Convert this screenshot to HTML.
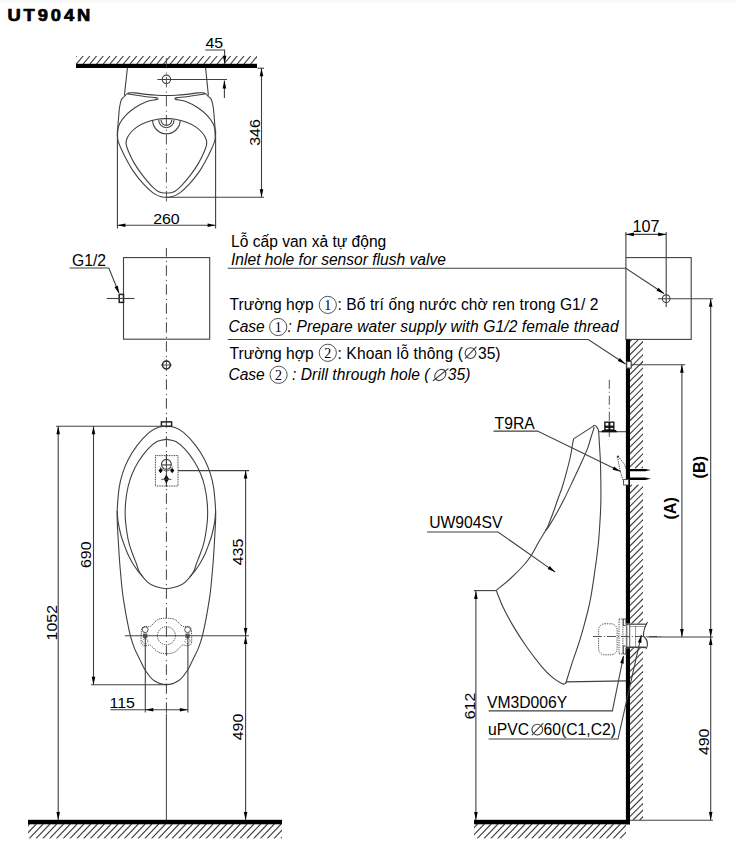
<!DOCTYPE html>
<html><head><meta charset="utf-8">
<style>
html,body{margin:0;padding:0;background:#fff;}
body{width:735px;height:863px;overflow:hidden;position:relative;}
svg{position:absolute;left:0;top:0;}
text{font-family:"Liberation Sans",sans-serif;fill:#000;stroke:none;}
</style></head><body>
<svg width="735" height="863" viewBox="0 0 735 863" stroke="#404040" stroke-linecap="butt">
<rect x="0" y="0" width="735" height="2" fill="#f8f8f8" stroke="none"/>
<rect x="0" y="2" width="735" height="2" fill="#fcfcfc" stroke="none"/>
<text transform="translate(7.4,20.9) scale(1.12,1)" font-size="16.4" font-weight="bold" letter-spacing="2.6" style="stroke:#000;stroke-width:0.7">UT904N</text>
<clipPath id="c1"><rect x="76" y="56" width="181" height="8"/></clipPath>
<g clip-path="url(#c1)">
<line x1="63.03" y1="64.00" x2="69.80" y2="56.00" stroke-width="1.15" />
<line x1="69.73" y1="64.00" x2="76.50" y2="56.00" stroke-width="1.15" />
<line x1="76.43" y1="64.00" x2="83.20" y2="56.00" stroke-width="1.15" />
<line x1="83.13" y1="64.00" x2="89.90" y2="56.00" stroke-width="1.15" />
<line x1="89.83" y1="64.00" x2="96.60" y2="56.00" stroke-width="1.15" />
<line x1="96.53" y1="64.00" x2="103.30" y2="56.00" stroke-width="1.15" />
<line x1="103.23" y1="64.00" x2="110.00" y2="56.00" stroke-width="1.15" />
<line x1="109.93" y1="64.00" x2="116.70" y2="56.00" stroke-width="1.15" />
<line x1="116.63" y1="64.00" x2="123.40" y2="56.00" stroke-width="1.15" />
<line x1="123.33" y1="64.00" x2="130.10" y2="56.00" stroke-width="1.15" />
<line x1="130.03" y1="64.00" x2="136.80" y2="56.00" stroke-width="1.15" />
<line x1="136.73" y1="64.00" x2="143.50" y2="56.00" stroke-width="1.15" />
<line x1="143.43" y1="64.00" x2="150.20" y2="56.00" stroke-width="1.15" />
<line x1="150.13" y1="64.00" x2="156.90" y2="56.00" stroke-width="1.15" />
<line x1="156.83" y1="64.00" x2="163.60" y2="56.00" stroke-width="1.15" />
<line x1="163.53" y1="64.00" x2="170.30" y2="56.00" stroke-width="1.15" />
<line x1="170.23" y1="64.00" x2="177.00" y2="56.00" stroke-width="1.15" />
<line x1="176.93" y1="64.00" x2="183.70" y2="56.00" stroke-width="1.15" />
<line x1="183.63" y1="64.00" x2="190.40" y2="56.00" stroke-width="1.15" />
<line x1="190.33" y1="64.00" x2="197.10" y2="56.00" stroke-width="1.15" />
<line x1="197.03" y1="64.00" x2="203.80" y2="56.00" stroke-width="1.15" />
<line x1="203.73" y1="64.00" x2="210.50" y2="56.00" stroke-width="1.15" />
<line x1="210.43" y1="64.00" x2="217.20" y2="56.00" stroke-width="1.15" />
<line x1="217.13" y1="64.00" x2="223.90" y2="56.00" stroke-width="1.15" />
<line x1="223.83" y1="64.00" x2="230.60" y2="56.00" stroke-width="1.15" />
<line x1="230.53" y1="64.00" x2="237.30" y2="56.00" stroke-width="1.15" />
<line x1="237.23" y1="64.00" x2="244.00" y2="56.00" stroke-width="1.15" />
<line x1="243.93" y1="64.00" x2="250.70" y2="56.00" stroke-width="1.15" />
<line x1="250.63" y1="64.00" x2="257.40" y2="56.00" stroke-width="1.15" />
<line x1="257.33" y1="64.00" x2="264.10" y2="56.00" stroke-width="1.15" />
</g>
<rect x="76" y="63.8" width="181" height="4.2" fill="#000" stroke="none"/>
<line x1="166.40" y1="58.00" x2="166.40" y2="203.00" stroke-width="0.9" stroke-dasharray="10.4,4.2,1.2,3.2"/>
<line x1="127.40" y1="68.00" x2="124.40" y2="95.50" stroke-width="1.1" />
<line x1="205.60" y1="68.00" x2="208.40" y2="95.50" stroke-width="1.1" />
<path d="M124.60,96.40 C124.93,96.02 125.78,94.68 126.60,94.10 C127.42,93.52 128.12,93.10 129.50,92.90 C130.88,92.70 132.10,92.65 134.90,92.90 C137.70,93.15 142.62,94.00 146.30,94.40 C149.98,94.80 153.65,95.12 157.00,95.30 C160.35,95.48 163.27,95.50 166.40,95.50 C169.53,95.50 172.45,95.48 175.80,95.30 C179.15,95.12 182.82,94.80 186.50,94.40 C190.18,94.00 195.10,93.15 197.90,92.90 C200.70,92.65 201.92,92.70 203.30,92.90 C204.68,93.10 205.38,93.52 206.20,94.10 C207.02,94.68 207.87,96.02 208.20,96.40" fill="none" stroke-width="1.1" />
<path d="M128.00,94.00 C129.15,94.17 131.85,94.55 134.90,95.00 C137.95,95.45 142.87,96.27 146.30,96.70 C149.73,97.13 153.58,97.35 155.50,97.60 C157.42,97.85 157.42,98.10 157.80,98.20" fill="none" stroke-width="1.1" />
<path d="M204.80,94.00 C203.65,94.17 200.95,94.55 197.90,95.00 C194.85,95.45 189.93,96.27 186.50,96.70 C183.07,97.13 179.22,97.35 177.30,97.60 C175.38,97.85 175.38,98.10 175.00,98.20" fill="none" stroke-width="1.1" />
<path d="M157.80,98.20 C157.67,98.40 158.92,98.82 157.00,99.40 C155.08,99.98 149.98,100.30 146.30,101.70 C142.62,103.10 138.33,105.52 134.90,107.80 C131.47,110.08 128.25,112.73 125.70,115.40 C123.15,118.07 120.93,121.20 119.60,123.80 C118.27,126.40 117.98,128.30 117.70,131.00 C117.42,133.70 117.27,136.92 117.90,140.00 C118.53,143.08 119.98,146.08 121.50,149.50 C123.02,152.92 124.90,156.68 127.00,160.50 C129.10,164.32 131.33,168.45 134.10,172.40 C136.87,176.35 140.45,180.78 143.60,184.20 C146.75,187.62 150.12,190.80 153.00,192.90 C155.88,195.00 158.67,196.08 160.90,196.80 C163.13,197.52 164.57,197.20 166.40,197.20 C168.23,197.20 169.67,197.52 171.90,196.80 C174.13,196.08 176.92,195.00 179.80,192.90 C182.68,190.80 186.05,187.62 189.20,184.20 C192.35,180.78 195.93,176.35 198.70,172.40 C201.47,168.45 203.70,164.32 205.80,160.50 C207.90,156.68 209.78,152.92 211.30,149.50 C212.82,146.08 214.27,143.08 214.90,140.00 C215.53,136.92 215.38,133.70 215.10,131.00 C214.82,128.30 214.53,126.40 213.20,123.80 C211.87,121.20 209.65,118.07 207.10,115.40 C204.55,112.73 201.33,110.08 197.90,107.80 C194.47,105.52 190.18,103.10 186.50,101.70 C182.82,100.30 177.72,99.98 175.80,99.40 C173.88,98.82 175.13,98.40 175.00,98.20" fill="none" stroke-width="1.1" />
<path d="M124.60,96.40 C124.08,96.90 122.33,97.63 121.50,99.40 C120.67,101.17 120.10,103.82 119.60,107.00 C119.10,110.18 118.83,114.67 118.50,118.50 C118.17,122.33 117.78,127.08 117.60,130.00 C117.42,132.92 117.43,135.00 117.40,136.00" fill="none" stroke-width="1.1" />
<path d="M208.20,96.40 C208.72,96.90 210.47,97.63 211.30,99.40 C212.13,101.17 212.70,103.82 213.20,107.00 C213.70,110.18 213.97,114.67 214.30,118.50 C214.63,122.33 215.02,127.08 215.20,130.00 C215.38,132.92 215.37,135.00 215.40,136.00" fill="none" stroke-width="1.1" />
<path d="M166.40,118.50 C164.95,118.62 161.05,118.57 157.70,119.20 C154.35,119.83 149.73,121.02 146.30,122.30 C142.87,123.58 139.77,125.12 137.10,126.90 C134.43,128.68 132.05,130.90 130.30,133.00 C128.55,135.10 127.28,137.55 126.60,139.50 C125.92,141.45 125.87,142.65 126.20,144.70 C126.53,146.75 127.28,148.77 128.60,151.80 C129.92,154.83 131.87,159.08 134.10,162.90 C136.33,166.72 139.10,170.88 142.00,174.70 C144.90,178.52 148.60,182.90 151.50,185.80 C154.40,188.70 156.92,190.90 159.40,192.10 C161.88,193.30 164.07,193.00 166.40,193.00 C168.73,193.00 170.92,193.30 173.40,192.10 C175.88,190.90 178.40,188.70 181.30,185.80 C184.20,182.90 187.90,178.52 190.80,174.70 C193.70,170.88 196.47,166.72 198.70,162.90 C200.93,159.08 202.88,154.83 204.20,151.80 C205.52,148.77 206.27,146.75 206.60,144.70 C206.93,142.65 206.88,141.45 206.20,139.50 C205.52,137.55 204.25,135.10 202.50,133.00 C200.75,130.90 198.37,128.68 195.70,126.90 C193.03,125.12 189.93,123.58 186.50,122.30 C183.07,121.02 178.45,119.83 175.10,119.20 C171.75,118.57 167.85,118.62 166.40,118.50 C164.95,118.38 167.85,118.38 166.40,118.50 Z" fill="none" stroke-width="1.1" />
<path d="M152.60,120 A13.8,13.8 0 0 0 180.20,120" fill="none" stroke-width="1.1"/>
<path d="M158.70,120 A7.7,7.7 0 0 0 174.10,120" fill="none" stroke-width="1.1"/>
<path d="M161.00,120 A5.4,5.4 0 0 0 171.80,120" fill="none" stroke-width="1.1"/>
<circle cx="166.4" cy="79.3" r="4.2" fill="none" stroke-width="1.1"/>
<line x1="157.50" y1="79.50" x2="227.00" y2="79.50" stroke-width="1.1" />
<text transform="translate(205.50,48.00) scale(1.03,1)" x="0" y="0" font-size="15.45" text-anchor="start" >45</text>
<polyline points="205.20,50.00 224.60,50.00 224.60,64.00" fill="none" stroke-width="1.1" />
<path d="M224.60,63.80 L222.80,55.80 L226.40,55.80 Z" fill="#000" stroke="none"/>
<line x1="224.40" y1="80.50" x2="224.40" y2="98.00" stroke-width="1.1" />
<path d="M224.40,80.50 L226.20,88.50 L222.60,88.50 Z" fill="#000" stroke="none"/>
<line x1="257.50" y1="68.20" x2="264.00" y2="68.20" stroke-width="1.1" />
<line x1="166.40" y1="197.20" x2="264.00" y2="197.20" stroke-width="1.1" />
<line x1="261.50" y1="68.20" x2="261.50" y2="197.20" stroke-width="1.1" />
<path d="M261.50,68.20 L263.30,76.20 L259.70,76.20 Z" fill="#000" stroke="none"/>
<path d="M261.50,197.20 L259.70,189.20 L263.30,189.20 Z" fill="#000" stroke="none"/>
<text transform="translate(260.00,132.50) rotate(-90) scale(1.03,1)" x="0" y="0" font-size="15.45" text-anchor="middle" >346</text>
<line x1="117.40" y1="130.00" x2="117.40" y2="228.50" stroke-width="1.1" />
<line x1="215.60" y1="130.00" x2="215.60" y2="228.50" stroke-width="1.1" />
<line x1="117.40" y1="225.30" x2="215.60" y2="225.30" stroke-width="1.1" />
<path d="M117.40,225.30 L125.40,223.50 L125.40,227.10 Z" fill="#000" stroke="none"/>
<path d="M215.60,225.30 L207.60,227.10 L207.60,223.50 Z" fill="#000" stroke="none"/>
<text transform="translate(166.40,223.50) scale(1.03,1)" x="0" y="0" font-size="15.45" text-anchor="middle" >260</text>
<rect x="123.5" y="257.6" width="86.2" height="81.6" fill="none" stroke-width="1.1"/>
<line x1="166.40" y1="248.00" x2="166.40" y2="420.00" stroke-width="1.0" stroke-dasharray="10.4,4.2,1.2,3.2" stroke-dashoffset="1.7"/>
<rect x="119.2" y="294.4" width="4.3" height="8.0" fill="#fff" stroke-width="1.5" stroke="#222"/>
<line x1="106.80" y1="298.50" x2="134.50" y2="298.50" stroke-width="1.1" />
<text transform="translate(72.00,265.90) scale(0.93,1)" x="0" y="0" font-size="16.9">G1/2</text>
<polyline points="69.60,268.00 108.80,268.00 119.00,293.00" fill="none" stroke-width="1.1" />
<path d="M119.20,293.80 L114.51,287.07 L117.84,285.71 Z" fill="#000" stroke="none"/>
<circle cx="166.4" cy="365" r="3.9" fill="#fff" stroke-width="1.5" stroke="#222"/>
<line x1="160.90" y1="365.00" x2="171.90" y2="365.00" stroke-width="0.9" />
<line x1="166.40" y1="359.50" x2="166.40" y2="370.50" stroke-width="0.9" />
<line x1="166.40" y1="420.00" x2="166.40" y2="713.00" stroke-width="1.0" stroke-dasharray="10.4,4.2,1.2,3.2" stroke-dashoffset="2.6"/>
<line x1="166.40" y1="713.50" x2="166.40" y2="820.00" stroke-width="1.0" />
<path d="M166.40,426.10 C165.08,426.30 161.35,426.25 158.50,427.30 C155.65,428.35 152.85,429.38 149.30,432.40 C145.75,435.42 140.77,440.77 137.20,445.40 C133.63,450.03 130.38,455.40 127.90,460.20 C125.42,465.00 123.77,469.55 122.30,474.20 C120.83,478.85 119.90,482.97 119.10,488.10 C118.30,493.23 117.83,500.48 117.50,505.00 C117.17,509.52 117.10,511.53 117.10,515.20 C117.10,518.87 117.30,522.70 117.50,527.00 C117.70,531.30 118.02,536.17 118.30,541.00 C118.58,545.83 118.87,551.17 119.20,556.00 C119.53,560.83 119.80,564.33 120.30,570.00 C120.80,575.67 121.60,584.63 122.20,590.00 C122.80,595.37 123.20,597.73 123.90,602.20 C124.60,606.67 125.32,611.20 126.40,616.80 C127.48,622.40 129.05,630.53 130.40,635.80 C131.75,641.07 132.88,644.37 134.50,648.40 C136.12,652.43 138.32,656.38 140.10,660.00 C141.88,663.62 142.90,666.68 145.20,670.10 C147.50,673.52 150.37,678.08 153.90,680.50 C157.43,682.92 162.23,684.60 166.40,684.60 C170.57,684.60 175.37,682.92 178.90,680.50 C182.43,678.08 185.30,673.52 187.60,670.10 C189.90,666.68 190.92,663.62 192.70,660.00 C194.48,656.38 196.68,652.43 198.30,648.40 C199.92,644.37 201.05,641.07 202.40,635.80 C203.75,630.53 205.32,622.40 206.40,616.80 C207.48,611.20 208.20,606.67 208.90,602.20 C209.60,597.73 210.00,595.37 210.60,590.00 C211.20,584.63 212.00,575.67 212.50,570.00 C213.00,564.33 213.27,560.83 213.60,556.00 C213.93,551.17 214.22,545.83 214.50,541.00 C214.78,536.17 215.10,531.30 215.30,527.00 C215.50,522.70 215.70,518.87 215.70,515.20 C215.70,511.53 215.63,509.52 215.30,505.00 C214.97,500.48 214.50,493.23 213.70,488.10 C212.90,482.97 211.97,478.85 210.50,474.20 C209.03,469.55 207.38,465.00 204.90,460.20 C202.42,455.40 199.17,450.03 195.60,445.40 C192.03,440.77 187.05,435.42 183.50,432.40 C179.95,429.38 177.15,428.35 174.30,427.30 C171.45,426.25 167.72,426.30 166.40,426.10 C165.08,425.90 167.72,425.90 166.40,426.10 Z" fill="none" stroke-width="1.1" />
<path d="M166.40,439.30 C164.83,439.68 160.13,439.92 157.00,441.60 C153.87,443.28 150.73,446.00 147.60,449.40 C144.47,452.80 140.82,457.82 138.20,462.00 C135.58,466.18 133.60,470.33 131.90,474.50 C130.20,478.67 129.05,482.32 128.00,487.00 C126.95,491.68 126.05,497.38 125.60,502.60 C125.15,507.82 125.02,512.90 125.30,518.30 C125.58,523.70 126.58,530.48 127.30,535.00 C128.02,539.52 128.63,542.02 129.60,545.40 C130.57,548.78 131.95,552.20 133.10,555.30 C134.25,558.40 135.42,561.17 136.50,564.00 C137.58,566.83 137.77,569.27 139.60,572.30 C141.43,575.33 144.85,579.82 147.50,582.20 C150.15,584.58 152.35,585.52 155.50,586.60 C158.65,587.68 162.77,588.70 166.40,588.70 C170.03,588.70 174.15,587.68 177.30,586.60 C180.45,585.52 182.65,584.58 185.30,582.20 C187.95,579.82 191.37,575.33 193.20,572.30 C195.03,569.27 195.22,566.83 196.30,564.00 C197.38,561.17 198.55,558.40 199.70,555.30 C200.85,552.20 202.23,548.78 203.20,545.40 C204.17,542.02 204.78,539.52 205.50,535.00 C206.22,530.48 207.22,523.70 207.50,518.30 C207.78,512.90 207.65,507.82 207.20,502.60 C206.75,497.38 205.85,491.68 204.80,487.00 C203.75,482.32 202.60,478.67 200.90,474.50 C199.20,470.33 197.22,466.18 194.60,462.00 C191.98,457.82 188.33,452.80 185.20,449.40 C182.07,446.00 178.93,443.28 175.80,441.60 C172.67,439.92 167.97,439.68 166.40,439.30 C164.83,438.92 167.97,438.92 166.40,439.30 Z" fill="none" stroke-width="1.1" />
<path d="M117.20,511.00 C117.35,512.77 117.48,517.60 118.10,521.60 C118.72,525.60 119.95,531.32 120.90,535.00 C121.85,538.68 122.65,540.52 123.80,543.70 C124.95,546.88 126.25,550.72 127.80,554.10 C129.35,557.48 131.25,560.98 133.10,564.00 C134.95,567.02 137.25,570.03 138.90,572.20 C140.55,574.37 142.32,576.20 143.00,577.00" fill="none" stroke-width="1.1" />
<path d="M215.60,511.00 C215.45,512.77 215.32,517.60 214.70,521.60 C214.08,525.60 212.85,531.32 211.90,535.00 C210.95,538.68 210.15,540.52 209.00,543.70 C207.85,546.88 206.55,550.72 205.00,554.10 C203.45,557.48 201.55,560.98 199.70,564.00 C197.85,567.02 195.55,570.03 193.90,572.20 C192.25,574.37 190.48,576.20 189.80,577.00" fill="none" stroke-width="1.1" />
<rect x="161.4" y="421.9" width="10.2" height="4.3" fill="#fff" stroke-width="1.5" stroke="#222"/>
<line x1="166.40" y1="421.80" x2="166.40" y2="426.20" stroke-width="1.1" />
<rect x="155.4" y="455.6" width="22.6" height="30.4" fill="none" stroke-width="1.0" stroke-dasharray="1,0.7"/>
<rect x="150" y="453" width="33" height="36" fill="#fff" stroke="none" opacity="0"/>
<line x1="166.40" y1="454.00" x2="166.40" y2="487.00" stroke-width="1.0" />
<circle cx="166.4" cy="464.3" r="4.9" fill="none" stroke-width="1.1"/>
<line x1="161.50" y1="464.90" x2="171.30" y2="464.90" stroke-width="1.1" />
<path d="M159.9,466.5 Q166.4,476 172.9,466.5" fill="none" stroke-width="0.8"/>
<path d="M158.5,470.6 L160.6,468.0 L162.7,470.6 L160.6,473.20000000000005 Z" fill="#000" stroke="none"/>
<path d="M170.1,470.6 L172.2,468.0 L174.29999999999998,470.6 L172.2,473.20000000000005 Z" fill="#000" stroke="none"/>
<path d="M163.8,479 L166.4,474.5 L169.0,479 L166.4,483.5 Z" fill="#111" stroke="none"/>
<line x1="161.20" y1="479.30" x2="171.60" y2="479.30" stroke-width="0.9" />
<line x1="178.00" y1="470.60" x2="249.00" y2="470.60" stroke-width="1.1" />
<path d="M166.40,618.10 C165.00,618.33 160.67,618.15 158.00,619.50 C155.33,620.85 152.40,625.05 150.40,626.20 C148.40,627.35 147.40,626.10 146.00,626.40 C144.60,626.70 142.80,626.40 142.00,628.00 C141.20,629.60 141.27,633.33 141.20,636.00 C141.13,638.67 140.80,642.37 141.60,644.00 C142.40,645.63 144.53,645.58 146.00,645.80 C147.47,646.02 148.40,644.27 150.40,645.30 C152.40,646.33 155.33,650.60 158.00,652.00 C160.67,653.40 163.60,653.70 166.40,653.70 C169.20,653.70 172.13,653.40 174.80,652.00 C177.47,650.60 180.40,646.33 182.40,645.30 C184.40,644.27 185.33,646.02 186.80,645.80 C188.27,645.58 190.40,645.63 191.20,644.00 C192.00,642.37 191.67,638.67 191.60,636.00 C191.53,633.33 191.60,629.60 190.80,628.00 C190.00,626.40 188.20,626.70 186.80,626.40 C185.40,626.10 184.40,627.35 182.40,626.20 C180.40,625.05 177.47,620.85 174.80,619.50 C172.13,618.15 167.80,618.33 166.40,618.10 C165.00,617.87 167.80,617.87 166.40,618.10 Z" fill="none" stroke-width="0.9" stroke-dasharray="1.3,0.9"/>
<circle cx="166.4" cy="635.7" r="9.0" fill="none" stroke-width="0.9" stroke-dasharray="1.3,0.9"/>
<circle cx="145.2" cy="629.7" r="2.9" fill="none" stroke-width="0.9"/>
<circle cx="145.2" cy="641.2" r="2.6" fill="none" stroke-width="0.8" stroke-dasharray="1,0.8"/>
<rect x="143.0" y="633.5" width="4.4" height="4.5" fill="#000" stroke="none" opacity="0.6"/>
<circle cx="187.6" cy="629.7" r="2.9" fill="none" stroke-width="0.9"/>
<circle cx="187.6" cy="641.2" r="2.6" fill="none" stroke-width="0.8" stroke-dasharray="1,0.8"/>
<rect x="185.4" y="633.5" width="4.4" height="4.5" fill="#000" stroke="none" opacity="0.6"/>
<line x1="124.90" y1="635.80" x2="249.00" y2="635.80" stroke-width="1.1" />
<line x1="145.30" y1="636.00" x2="145.30" y2="712.50" stroke-width="1.1" />
<line x1="187.90" y1="636.00" x2="187.90" y2="712.50" stroke-width="1.1" />
<line x1="110.50" y1="709.80" x2="187.90" y2="709.80" stroke-width="1.1" />
<path d="M145.30,709.80 L153.30,708.00 L153.30,711.60 Z" fill="#000" stroke="none"/>
<path d="M187.90,709.80 L179.90,711.60 L179.90,708.00 Z" fill="#000" stroke="none"/>
<text transform="translate(109.50,707.80) scale(1.03,1)" x="0" y="0" font-size="15.45" text-anchor="start" >115</text>
<line x1="56.00" y1="426.20" x2="166.40" y2="426.20" stroke-width="1.1" />
<line x1="91.00" y1="684.80" x2="166.40" y2="684.80" stroke-width="1.1" />
<line x1="58.20" y1="426.20" x2="58.20" y2="820.00" stroke-width="1.1" />
<path d="M58.20,426.20 L60.00,434.20 L56.40,434.20 Z" fill="#000" stroke="none"/>
<path d="M58.20,820.00 L56.40,812.00 L60.00,812.00 Z" fill="#000" stroke="none"/>
<text transform="translate(57.00,622.70) rotate(-90) scale(1.03,1)" x="0" y="0" font-size="15.45" text-anchor="middle" >1052</text>
<line x1="93.50" y1="426.20" x2="93.50" y2="684.80" stroke-width="1.1" />
<path d="M93.50,426.20 L95.30,434.20 L91.70,434.20 Z" fill="#000" stroke="none"/>
<path d="M93.50,684.80 L91.70,676.80 L95.30,676.80 Z" fill="#000" stroke="none"/>
<text transform="translate(91.00,554.70) rotate(-90) scale(1.03,1)" x="0" y="0" font-size="15.45" text-anchor="middle" >690</text>
<line x1="245.60" y1="470.60" x2="245.60" y2="820.00" stroke-width="1.1" />
<path d="M245.60,470.60 L247.40,478.60 L243.80,478.60 Z" fill="#000" stroke="none"/>
<path d="M245.60,636.00 L243.80,628.00 L247.40,628.00 Z" fill="#000" stroke="none"/>
<path d="M245.60,636.00 L247.40,644.00 L243.80,644.00 Z" fill="#000" stroke="none"/>
<path d="M245.60,820.00 L243.80,812.00 L247.40,812.00 Z" fill="#000" stroke="none"/>
<text transform="translate(243.00,552.00) rotate(-90) scale(1.03,1)" x="0" y="0" font-size="15.45" text-anchor="middle" >435</text>
<text transform="translate(243.00,727.00) rotate(-90) scale(1.03,1)" x="0" y="0" font-size="15.45" text-anchor="middle" >490</text>
<clipPath id="c2"><rect x="28" y="824" width="254" height="14.600000000000023"/></clipPath>
<g clip-path="url(#c2)">
<line x1="8.74" y1="838.60" x2="22.70" y2="824.00" stroke-width="1.15" />
<line x1="15.54" y1="838.60" x2="29.50" y2="824.00" stroke-width="1.15" />
<line x1="22.34" y1="838.60" x2="36.30" y2="824.00" stroke-width="1.15" />
<line x1="29.14" y1="838.60" x2="43.10" y2="824.00" stroke-width="1.15" />
<line x1="35.94" y1="838.60" x2="49.90" y2="824.00" stroke-width="1.15" />
<line x1="42.74" y1="838.60" x2="56.70" y2="824.00" stroke-width="1.15" />
<line x1="49.54" y1="838.60" x2="63.50" y2="824.00" stroke-width="1.15" />
<line x1="56.34" y1="838.60" x2="70.30" y2="824.00" stroke-width="1.15" />
<line x1="63.14" y1="838.60" x2="77.10" y2="824.00" stroke-width="1.15" />
<line x1="69.94" y1="838.60" x2="83.90" y2="824.00" stroke-width="1.15" />
<line x1="76.74" y1="838.60" x2="90.70" y2="824.00" stroke-width="1.15" />
<line x1="83.54" y1="838.60" x2="97.50" y2="824.00" stroke-width="1.15" />
<line x1="90.34" y1="838.60" x2="104.30" y2="824.00" stroke-width="1.15" />
<line x1="97.14" y1="838.60" x2="111.10" y2="824.00" stroke-width="1.15" />
<line x1="103.94" y1="838.60" x2="117.90" y2="824.00" stroke-width="1.15" />
<line x1="110.74" y1="838.60" x2="124.70" y2="824.00" stroke-width="1.15" />
<line x1="117.54" y1="838.60" x2="131.50" y2="824.00" stroke-width="1.15" />
<line x1="124.34" y1="838.60" x2="138.30" y2="824.00" stroke-width="1.15" />
<line x1="131.14" y1="838.60" x2="145.10" y2="824.00" stroke-width="1.15" />
<line x1="137.94" y1="838.60" x2="151.90" y2="824.00" stroke-width="1.15" />
<line x1="144.74" y1="838.60" x2="158.70" y2="824.00" stroke-width="1.15" />
<line x1="151.54" y1="838.60" x2="165.50" y2="824.00" stroke-width="1.15" />
<line x1="158.34" y1="838.60" x2="172.30" y2="824.00" stroke-width="1.15" />
<line x1="165.14" y1="838.60" x2="179.10" y2="824.00" stroke-width="1.15" />
<line x1="171.94" y1="838.60" x2="185.90" y2="824.00" stroke-width="1.15" />
<line x1="178.74" y1="838.60" x2="192.70" y2="824.00" stroke-width="1.15" />
<line x1="185.54" y1="838.60" x2="199.50" y2="824.00" stroke-width="1.15" />
<line x1="192.34" y1="838.60" x2="206.30" y2="824.00" stroke-width="1.15" />
<line x1="199.14" y1="838.60" x2="213.10" y2="824.00" stroke-width="1.15" />
<line x1="205.94" y1="838.60" x2="219.90" y2="824.00" stroke-width="1.15" />
<line x1="212.74" y1="838.60" x2="226.70" y2="824.00" stroke-width="1.15" />
<line x1="219.54" y1="838.60" x2="233.50" y2="824.00" stroke-width="1.15" />
<line x1="226.34" y1="838.60" x2="240.30" y2="824.00" stroke-width="1.15" />
<line x1="233.14" y1="838.60" x2="247.10" y2="824.00" stroke-width="1.15" />
<line x1="239.94" y1="838.60" x2="253.90" y2="824.00" stroke-width="1.15" />
<line x1="246.74" y1="838.60" x2="260.70" y2="824.00" stroke-width="1.15" />
<line x1="253.54" y1="838.60" x2="267.50" y2="824.00" stroke-width="1.15" />
<line x1="260.34" y1="838.60" x2="274.30" y2="824.00" stroke-width="1.15" />
<line x1="267.14" y1="838.60" x2="281.10" y2="824.00" stroke-width="1.15" />
<line x1="273.94" y1="838.60" x2="287.90" y2="824.00" stroke-width="1.15" />
<line x1="280.74" y1="838.60" x2="294.70" y2="824.00" stroke-width="1.15" />
<line x1="287.54" y1="838.60" x2="301.50" y2="824.00" stroke-width="1.15" />
</g>
<rect x="28" y="819.8" width="254" height="4.5" fill="#000" stroke="none"/>
<text x="231.00" y="246.70" font-size="15.6" text-anchor="start" >Lỗ cấp van xả tự động</text>
<text x="231.00" y="265.00" font-size="15.6" text-anchor="start" font-style="italic">Inlet hole for sensor flush valve</text>
<polyline points="227.70,268.30 625.90,268.30 664.00,293.50" fill="none" stroke-width="1.1" />
<path d="M664.20,293.70 L656.53,290.79 L658.52,287.79 Z" fill="#000" stroke="none"/>
<text x="229.60" y="309.90" font-size="15.6" text-anchor="start" >Trường hợp</text>
<circle cx="327.80" cy="304.90" r="8.6" fill="none" stroke-width="0.9"/>
<text x="327.80" y="309.80" font-size="14" text-anchor="middle" style="font-family:'Liberation Serif',serif">1</text>
<text x="337.40" y="309.90" font-size="15.6" textLength="261.00" lengthAdjust="spacing" >: Bố trí ống nước chờ ren trong G1/ 2</text>
<text x="228.40" y="332.00" font-size="15.6" text-anchor="start" font-style="italic">Case</text>
<circle cx="278.20" cy="327.00" r="8.6" fill="none" stroke-width="0.9"/>
<text x="278.20" y="331.90" font-size="14" text-anchor="middle" style="font-family:'Liberation Serif',serif">1</text>
<text x="287.60" y="332.00" font-size="15.6" textLength="331.00" lengthAdjust="spacing" font-style="italic">: Prepare water supply with G1/2 female thread</text>
<polyline points="227.70,339.50 588.30,339.50 625.50,364.00" fill="none" stroke-width="1.1" />
<path d="M625.50,364.00 L617.83,361.10 L619.81,358.10 Z" fill="#000" stroke="none"/>
<text x="229.60" y="358.60" font-size="15.6" text-anchor="start" >Trường hợp</text>
<circle cx="327.80" cy="352.80" r="8.6" fill="none" stroke-width="0.9"/>
<text x="327.80" y="357.70" font-size="14" text-anchor="middle" style="font-family:'Liberation Serif',serif">2</text>
<text x="337.40" y="358.60" font-size="15.6" textLength="125.50" lengthAdjust="spacing" >: Khoan lỗ thông (</text>
<circle cx="470.50" cy="353.10" r="5.4" fill="none" stroke-width="1.1"/>
<line x1="465.10" y1="358.70" x2="476.50" y2="346.70" stroke-width="1.1" />
<text x="478.00" y="358.60" font-size="15.6" text-anchor="start" >35)</text>
<text x="228.40" y="380.40" font-size="15.6" text-anchor="start" font-style="italic">Case</text>
<circle cx="278.60" cy="374.80" r="8.6" fill="none" stroke-width="0.9"/>
<text x="278.60" y="379.70" font-size="14" text-anchor="middle" style="font-family:'Liberation Serif',serif">2</text>
<text x="292.00" y="380.40" font-size="15.6" textLength="137.50" lengthAdjust="spacing" font-style="italic">: Drill through hole (</text>
<g transform="translate(440.30,375.00) skewX(-14)"><ellipse cx="0" cy="0" rx="5.4" ry="5.6" fill="none" stroke-width="1.1"/><line x1="-6" y1="6" x2="6.5" y2="-6.5" stroke-width="1.1"/></g>
<text x="447.80" y="380.40" font-size="15.6" text-anchor="start" font-style="italic">35)</text>
<rect x="625.9" y="257.6" width="65.3" height="81.8" fill="none" stroke-width="1.1"/>
<line x1="625.90" y1="232.00" x2="625.90" y2="257.60" stroke-width="1.1" />
<line x1="666.20" y1="232.00" x2="666.20" y2="307.00" stroke-width="1.1" />
<line x1="625.90" y1="234.40" x2="666.20" y2="234.40" stroke-width="1.1" />
<path d="M625.90,234.40 L633.90,232.60 L633.90,236.20 Z" fill="#000" stroke="none"/>
<path d="M666.20,234.40 L658.20,236.20 L658.20,232.60 Z" fill="#000" stroke="none"/>
<text x="646.00" y="232.30" font-size="16.2" text-anchor="middle" >107</text>
<circle cx="666.2" cy="298.7" r="3.8" fill="none" stroke-width="1.1"/>
<line x1="657.80" y1="298.70" x2="713.00" y2="298.70" stroke-width="1.1" />
<clipPath id="c3"><rect x="629.5" y="339.4" width="13.5" height="129.10000000000002"/></clipPath>
<g clip-path="url(#c3)">
<line x1="496.30" y1="468.50" x2="625.40" y2="339.40" stroke-width="1.15" />
<line x1="502.90" y1="468.50" x2="632.00" y2="339.40" stroke-width="1.15" />
<line x1="509.50" y1="468.50" x2="638.60" y2="339.40" stroke-width="1.15" />
<line x1="516.10" y1="468.50" x2="645.20" y2="339.40" stroke-width="1.15" />
<line x1="522.70" y1="468.50" x2="651.80" y2="339.40" stroke-width="1.15" />
<line x1="529.30" y1="468.50" x2="658.40" y2="339.40" stroke-width="1.15" />
<line x1="535.90" y1="468.50" x2="665.00" y2="339.40" stroke-width="1.15" />
<line x1="542.50" y1="468.50" x2="671.60" y2="339.40" stroke-width="1.15" />
<line x1="549.10" y1="468.50" x2="678.20" y2="339.40" stroke-width="1.15" />
<line x1="555.70" y1="468.50" x2="684.80" y2="339.40" stroke-width="1.15" />
<line x1="562.30" y1="468.50" x2="691.40" y2="339.40" stroke-width="1.15" />
<line x1="568.90" y1="468.50" x2="698.00" y2="339.40" stroke-width="1.15" />
<line x1="575.50" y1="468.50" x2="704.60" y2="339.40" stroke-width="1.15" />
<line x1="582.10" y1="468.50" x2="711.20" y2="339.40" stroke-width="1.15" />
<line x1="588.70" y1="468.50" x2="717.80" y2="339.40" stroke-width="1.15" />
<line x1="595.30" y1="468.50" x2="724.40" y2="339.40" stroke-width="1.15" />
<line x1="601.90" y1="468.50" x2="731.00" y2="339.40" stroke-width="1.15" />
<line x1="608.50" y1="468.50" x2="737.60" y2="339.40" stroke-width="1.15" />
<line x1="615.10" y1="468.50" x2="744.20" y2="339.40" stroke-width="1.15" />
<line x1="621.70" y1="468.50" x2="750.80" y2="339.40" stroke-width="1.15" />
<line x1="628.30" y1="468.50" x2="757.40" y2="339.40" stroke-width="1.15" />
<line x1="634.90" y1="468.50" x2="764.00" y2="339.40" stroke-width="1.15" />
<line x1="641.50" y1="468.50" x2="770.60" y2="339.40" stroke-width="1.15" />
<line x1="648.10" y1="468.50" x2="777.20" y2="339.40" stroke-width="1.15" />
</g>
<clipPath id="c4"><rect x="629.5" y="484.5" width="13.5" height="335.5"/></clipPath>
<g clip-path="url(#c4)">
<line x1="289.90" y1="820.00" x2="625.40" y2="484.50" stroke-width="1.15" />
<line x1="296.50" y1="820.00" x2="632.00" y2="484.50" stroke-width="1.15" />
<line x1="303.10" y1="820.00" x2="638.60" y2="484.50" stroke-width="1.15" />
<line x1="309.70" y1="820.00" x2="645.20" y2="484.50" stroke-width="1.15" />
<line x1="316.30" y1="820.00" x2="651.80" y2="484.50" stroke-width="1.15" />
<line x1="322.90" y1="820.00" x2="658.40" y2="484.50" stroke-width="1.15" />
<line x1="329.50" y1="820.00" x2="665.00" y2="484.50" stroke-width="1.15" />
<line x1="336.10" y1="820.00" x2="671.60" y2="484.50" stroke-width="1.15" />
<line x1="342.70" y1="820.00" x2="678.20" y2="484.50" stroke-width="1.15" />
<line x1="349.30" y1="820.00" x2="684.80" y2="484.50" stroke-width="1.15" />
<line x1="355.90" y1="820.00" x2="691.40" y2="484.50" stroke-width="1.15" />
<line x1="362.50" y1="820.00" x2="698.00" y2="484.50" stroke-width="1.15" />
<line x1="369.10" y1="820.00" x2="704.60" y2="484.50" stroke-width="1.15" />
<line x1="375.70" y1="820.00" x2="711.20" y2="484.50" stroke-width="1.15" />
<line x1="382.30" y1="820.00" x2="717.80" y2="484.50" stroke-width="1.15" />
<line x1="388.90" y1="820.00" x2="724.40" y2="484.50" stroke-width="1.15" />
<line x1="395.50" y1="820.00" x2="731.00" y2="484.50" stroke-width="1.15" />
<line x1="402.10" y1="820.00" x2="737.60" y2="484.50" stroke-width="1.15" />
<line x1="408.70" y1="820.00" x2="744.20" y2="484.50" stroke-width="1.15" />
<line x1="415.30" y1="820.00" x2="750.80" y2="484.50" stroke-width="1.15" />
<line x1="421.90" y1="820.00" x2="757.40" y2="484.50" stroke-width="1.15" />
<line x1="428.50" y1="820.00" x2="764.00" y2="484.50" stroke-width="1.15" />
<line x1="435.10" y1="820.00" x2="770.60" y2="484.50" stroke-width="1.15" />
<line x1="441.70" y1="820.00" x2="777.20" y2="484.50" stroke-width="1.15" />
<line x1="448.30" y1="820.00" x2="783.80" y2="484.50" stroke-width="1.15" />
<line x1="454.90" y1="820.00" x2="790.40" y2="484.50" stroke-width="1.15" />
<line x1="461.50" y1="820.00" x2="797.00" y2="484.50" stroke-width="1.15" />
<line x1="468.10" y1="820.00" x2="803.60" y2="484.50" stroke-width="1.15" />
<line x1="474.70" y1="820.00" x2="810.20" y2="484.50" stroke-width="1.15" />
<line x1="481.30" y1="820.00" x2="816.80" y2="484.50" stroke-width="1.15" />
<line x1="487.90" y1="820.00" x2="823.40" y2="484.50" stroke-width="1.15" />
<line x1="494.50" y1="820.00" x2="830.00" y2="484.50" stroke-width="1.15" />
<line x1="501.10" y1="820.00" x2="836.60" y2="484.50" stroke-width="1.15" />
<line x1="507.70" y1="820.00" x2="843.20" y2="484.50" stroke-width="1.15" />
<line x1="514.30" y1="820.00" x2="849.80" y2="484.50" stroke-width="1.15" />
<line x1="520.90" y1="820.00" x2="856.40" y2="484.50" stroke-width="1.15" />
<line x1="527.50" y1="820.00" x2="863.00" y2="484.50" stroke-width="1.15" />
<line x1="534.10" y1="820.00" x2="869.60" y2="484.50" stroke-width="1.15" />
<line x1="540.70" y1="820.00" x2="876.20" y2="484.50" stroke-width="1.15" />
<line x1="547.30" y1="820.00" x2="882.80" y2="484.50" stroke-width="1.15" />
<line x1="553.90" y1="820.00" x2="889.40" y2="484.50" stroke-width="1.15" />
<line x1="560.50" y1="820.00" x2="896.00" y2="484.50" stroke-width="1.15" />
<line x1="567.10" y1="820.00" x2="902.60" y2="484.50" stroke-width="1.15" />
<line x1="573.70" y1="820.00" x2="909.20" y2="484.50" stroke-width="1.15" />
<line x1="580.30" y1="820.00" x2="915.80" y2="484.50" stroke-width="1.15" />
<line x1="586.90" y1="820.00" x2="922.40" y2="484.50" stroke-width="1.15" />
<line x1="593.50" y1="820.00" x2="929.00" y2="484.50" stroke-width="1.15" />
<line x1="600.10" y1="820.00" x2="935.60" y2="484.50" stroke-width="1.15" />
<line x1="606.70" y1="820.00" x2="942.20" y2="484.50" stroke-width="1.15" />
<line x1="613.30" y1="820.00" x2="948.80" y2="484.50" stroke-width="1.15" />
<line x1="619.90" y1="820.00" x2="955.40" y2="484.50" stroke-width="1.15" />
<line x1="626.50" y1="820.00" x2="962.00" y2="484.50" stroke-width="1.15" />
<line x1="633.10" y1="820.00" x2="968.60" y2="484.50" stroke-width="1.15" />
<line x1="639.70" y1="820.00" x2="975.20" y2="484.50" stroke-width="1.15" />
<line x1="646.30" y1="820.00" x2="981.80" y2="484.50" stroke-width="1.15" />
</g>
<rect x="625.9" y="339.4" width="4.1" height="484.9" fill="#000" stroke="none"/>
<clipPath id="c5"><rect x="474" y="824" width="152" height="14.600000000000023"/></clipPath>
<g clip-path="url(#c5)">
<line x1="456.74" y1="838.60" x2="470.70" y2="824.00" stroke-width="1.15" />
<line x1="463.54" y1="838.60" x2="477.50" y2="824.00" stroke-width="1.15" />
<line x1="470.34" y1="838.60" x2="484.30" y2="824.00" stroke-width="1.15" />
<line x1="477.14" y1="838.60" x2="491.10" y2="824.00" stroke-width="1.15" />
<line x1="483.94" y1="838.60" x2="497.90" y2="824.00" stroke-width="1.15" />
<line x1="490.74" y1="838.60" x2="504.70" y2="824.00" stroke-width="1.15" />
<line x1="497.54" y1="838.60" x2="511.50" y2="824.00" stroke-width="1.15" />
<line x1="504.34" y1="838.60" x2="518.30" y2="824.00" stroke-width="1.15" />
<line x1="511.14" y1="838.60" x2="525.10" y2="824.00" stroke-width="1.15" />
<line x1="517.94" y1="838.60" x2="531.90" y2="824.00" stroke-width="1.15" />
<line x1="524.74" y1="838.60" x2="538.70" y2="824.00" stroke-width="1.15" />
<line x1="531.54" y1="838.60" x2="545.50" y2="824.00" stroke-width="1.15" />
<line x1="538.34" y1="838.60" x2="552.30" y2="824.00" stroke-width="1.15" />
<line x1="545.14" y1="838.60" x2="559.10" y2="824.00" stroke-width="1.15" />
<line x1="551.94" y1="838.60" x2="565.90" y2="824.00" stroke-width="1.15" />
<line x1="558.74" y1="838.60" x2="572.70" y2="824.00" stroke-width="1.15" />
<line x1="565.54" y1="838.60" x2="579.50" y2="824.00" stroke-width="1.15" />
<line x1="572.34" y1="838.60" x2="586.30" y2="824.00" stroke-width="1.15" />
<line x1="579.14" y1="838.60" x2="593.10" y2="824.00" stroke-width="1.15" />
<line x1="585.94" y1="838.60" x2="599.90" y2="824.00" stroke-width="1.15" />
<line x1="592.74" y1="838.60" x2="606.70" y2="824.00" stroke-width="1.15" />
<line x1="599.54" y1="838.60" x2="613.50" y2="824.00" stroke-width="1.15" />
<line x1="606.34" y1="838.60" x2="620.30" y2="824.00" stroke-width="1.15" />
<line x1="613.14" y1="838.60" x2="627.10" y2="824.00" stroke-width="1.15" />
<line x1="619.94" y1="838.60" x2="633.90" y2="824.00" stroke-width="1.15" />
<line x1="626.74" y1="838.60" x2="640.70" y2="824.00" stroke-width="1.15" />
</g>
<rect x="474" y="819.8" width="156" height="4.5" fill="#000" stroke="none"/>
<rect x="626.7" y="361.5" width="4.5" height="6.6" fill="#fff" stroke-width="1.1"/>
<line x1="631.00" y1="364.80" x2="685.20" y2="364.80" stroke-width="1.1" />
<path d="M629.7,468.90000000000003 L645,468.90000000000003 L651,470.1 L645,471.3 L629.7,471.3 Z" fill="#000" stroke="none"/>
<path d="M629.7,477.5 L645,477.5 L651,478.7 L645,479.9 L629.7,479.9 Z" fill="#000" stroke="none"/>
<line x1="681.90" y1="364.80" x2="681.90" y2="637.00" stroke-width="1.1" />
<path d="M681.90,364.80 L683.70,372.80 L680.10,372.80 Z" fill="#000" stroke="none"/>
<path d="M681.90,637.00 L680.10,629.00 L683.70,629.00 Z" fill="#000" stroke="none"/>
<line x1="710.70" y1="298.70" x2="710.70" y2="637.00" stroke-width="1.1" />
<path d="M710.70,298.70 L712.50,306.70 L708.90,306.70 Z" fill="#000" stroke="none"/>
<path d="M710.70,637.00 L708.90,629.00 L712.50,629.00 Z" fill="#000" stroke="none"/>
<text transform="translate(676.00,508.30) rotate(-90)" x="0" y="0" font-size="16.2" text-anchor="middle" font-weight="bold">(A)</text>
<text transform="translate(705.00,467.20) rotate(-90)" x="0" y="0" font-size="16.2" text-anchor="middle" font-weight="bold">(B)</text>
<line x1="645.00" y1="637.00" x2="713.00" y2="637.00" stroke-width="1.1" />
<line x1="630.00" y1="820.30" x2="713.00" y2="820.30" stroke-width="1.1" />
<line x1="710.70" y1="637.00" x2="710.70" y2="820.00" stroke-width="1.1" />
<path d="M710.70,637.00 L712.50,645.00 L708.90,645.00 Z" fill="#000" stroke="none"/>
<path d="M710.70,820.00 L708.90,812.00 L712.50,812.00 Z" fill="#000" stroke="none"/>
<text transform="translate(709.00,741.80) rotate(-90) scale(1.03,1)" x="0" y="0" font-size="15.45" text-anchor="middle" >490</text>
<path d="M573.60,438.90 C573.43,439.75 573.15,440.98 572.60,444.00 C572.05,447.02 571.38,452.05 570.30,457.00 C569.22,461.95 567.52,468.45 566.10,473.70 C564.68,478.95 563.05,484.62 561.80,488.50 C560.55,492.38 559.87,493.47 558.60,497.00 C557.33,500.53 555.95,504.93 554.20,509.70 C552.45,514.47 549.53,522.13 548.10,525.60 C546.67,529.07 547.23,527.63 545.60,530.50 C543.97,533.37 540.65,538.72 538.30,542.80 C535.95,546.88 533.90,551.30 531.50,555.00 C529.10,558.70 527.40,561.08 523.90,565.00 C520.40,568.92 515.12,574.27 510.50,578.50 C505.88,582.73 498.58,588.42 496.20,590.40" fill="none" stroke-width="1.1" />
<line x1="573.60" y1="438.90" x2="593.00" y2="426.40" stroke-width="1.1" />
<path d="M594.30,427.00 C593.67,429.00 591.63,435.40 590.50,439.00 C589.37,442.60 589.08,444.52 587.50,448.60 C585.92,452.68 583.32,458.40 581.00,463.50 C578.68,468.60 576.32,473.45 573.60,479.20 C570.88,484.95 567.32,492.72 564.70,498.00 C562.08,503.28 560.47,506.30 557.90,510.90 C555.33,515.50 551.38,522.25 549.30,525.60 C547.22,528.95 546.05,530.10 545.40,531.00" fill="none" stroke-width="1.1" />
<path d="M592.6,426.6 Q594.3,424.6 596.2,426.2" fill="none" stroke-width="1.1" />
<path d="M596.20,426.20 C596.43,426.58 597.20,427.62 597.60,428.50 C598.00,429.38 598.28,428.62 598.60,431.50 C598.92,434.38 599.18,440.32 599.50,445.80 C599.82,451.28 600.27,455.70 600.50,464.40 C600.73,473.10 600.97,488.82 600.90,498.00 C600.83,507.18 600.53,511.83 600.10,519.50 C599.67,527.17 599.12,535.83 598.30,544.00 C597.48,552.17 596.62,558.77 595.20,568.50 C593.78,578.23 592.20,591.00 589.80,602.40 C587.40,613.80 583.80,626.67 580.80,636.90 C577.80,647.13 574.30,656.07 571.80,663.80 C569.30,671.53 566.80,680.05 565.80,683.30" fill="none" stroke-width="1.1" />
<path d="M496.20,590.40 C497.33,593.15 500.13,600.90 503.00,606.90 C505.87,612.90 509.42,619.67 513.40,626.40 C517.38,633.13 522.15,640.57 526.90,647.30 C531.65,654.03 537.65,661.80 541.90,666.80 C546.15,671.80 549.15,674.55 552.40,677.30 C555.65,680.05 559.42,682.18 561.40,683.30 C563.38,684.42 563.48,684.17 564.30,684.00 C565.12,683.83 565.97,682.58 566.30,682.30" fill="none" stroke-width="1.1" />
<line x1="566.30" y1="681.90" x2="626.20" y2="680.90" stroke-width="1.1" />
<line x1="598.50" y1="431.70" x2="626.20" y2="431.70" stroke-width="1.1" />
<line x1="473.80" y1="590.60" x2="496.20" y2="590.60" stroke-width="1.1" />
<line x1="475.90" y1="591.00" x2="475.90" y2="820.00" stroke-width="1.1" />
<path d="M475.90,591.00 L477.70,599.00 L474.10,599.00 Z" fill="#000" stroke="none"/>
<path d="M475.90,820.00 L474.10,812.00 L477.70,812.00 Z" fill="#000" stroke="none"/>
<text transform="translate(474.50,706.00) rotate(-90) scale(1.03,1)" x="0" y="0" font-size="15.45" text-anchor="middle" >612</text>
<line x1="609.30" y1="379.80" x2="609.30" y2="440.00" stroke-width="0.9" stroke-dasharray="9,3,1,3"/>
<rect x="604.2" y="421.5" width="10.3" height="9" fill="#111" stroke="none"/>
<rect x="605.6" y="422.8" width="2.8" height="2.8" fill="#fff" stroke="none"/>
<rect x="605.6" y="427.9" width="2.8" height="1.4" fill="#fff" stroke="none"/>
<rect x="610.4" y="422.8" width="2.8" height="2.8" fill="#fff" stroke="none"/>
<rect x="610.4" y="427.9" width="2.8" height="1.4" fill="#fff" stroke="none"/>
<path d="M601.3,432.2 L602.5,430 L616,430 L617.2,432.2 Z" fill="#111" stroke="none"/>
<path d="M617.7,456.5 C618,462 619.5,467 620.5,471.8 C621.5,476 623,480 624.7,485.2" fill="none" stroke-width="0.9" stroke-dasharray="1.4,0.9"/>
<path d="M617.7,456.5 C619,457 622.5,462 624.2,463.9 C625,465.5 625.6,467 625.6,468.6" fill="none" stroke-width="0.9" stroke-dasharray="1.4,0.9"/>
<path d="M617.2,457.5 Q617.5,455.2 619,456.8" fill="none" stroke-width="1.2"/>
<rect x="623.6" y="479.6" width="5.0" height="5.4" fill="#fff" stroke-width="0.9"/>
<rect x="598.6" y="623.8" width="18.5" height="31" rx="6" fill="none" stroke-width="0.9" stroke-dasharray="1.3,1"/>
<rect x="619" y="619" width="3.9" height="34.8" fill="none" stroke-width="0.9" stroke-dasharray="1.3,1"/>
<rect x="623.3" y="619" width="2.6" height="6.5" fill="none" stroke-width="0.9"/>
<rect x="623.3" y="646" width="2.6" height="8" fill="none" stroke-width="0.9"/>
<rect x="625.6" y="623.6" width="21.4" height="24.6" fill="#fff" stroke="none"/>
<line x1="626.00" y1="624.20" x2="646.50" y2="624.20" stroke-width="1.2" />
<line x1="629.50" y1="626.50" x2="646.00" y2="626.50" stroke-width="0.8" stroke-dasharray="1.2,0.8"/>
<line x1="626.00" y1="647.30" x2="646.00" y2="647.30" stroke-width="1.6" />
<line x1="626.80" y1="624.20" x2="626.80" y2="647.30" stroke-width="1.0" />
<line x1="629.70" y1="624.20" x2="629.70" y2="647.30" stroke-width="0.9" />
<line x1="635.60" y1="626.50" x2="635.60" y2="647.30" stroke-width="0.9" stroke-dasharray="1.2,0.8"/>
<path d="M647.5,622.0 Q643,630 643.5,636 Q650,642 646,649" fill="none" stroke-width="1.1" />
<line x1="592.90" y1="636.50" x2="662.00" y2="636.50" stroke-width="0.9" stroke-dasharray="9,2,1,2"/>
<text transform="translate(494.60,428.80) scale(0.93,1)" x="0" y="0" font-size="16.9">T9RA</text>
<polyline points="493.50,431.10 537.50,431.10 620.50,471.60" fill="none" stroke-width="1.1" />
<path d="M620.50,471.60 L612.52,469.71 L614.10,466.47 Z" fill="#000" stroke="none"/>
<text transform="translate(429.20,527.60) scale(0.93,1)" x="0" y="0" font-size="16.9">UW904SV</text>
<polyline points="427.00,532.00 498.00,532.00 555.20,572.10" fill="none" stroke-width="1.1" />
<path d="M555.20,572.10 L547.62,568.98 L549.68,566.03 Z" fill="#000" stroke="none"/>
<text transform="translate(487.00,707.80) scale(0.93,1)" x="0" y="0" font-size="16.9">VM3D006Y</text>
<polyline points="488.60,710.90 612.40,710.90 623.50,656.00" fill="none" stroke-width="1.1" />
<path d="M623.50,655.50 L623.69,663.70 L620.16,662.99 Z" fill="#000" stroke="none"/>
<text transform="translate(488.00,734.80) scale(0.93,1)" x="0" y="0" font-size="16.9">uPVC</text>
<circle cx="537.30" cy="729.60" r="5.4" fill="none" stroke-width="1.1"/>
<line x1="531.90" y1="735.20" x2="543.30" y2="723.20" stroke-width="1.1" />
<text transform="translate(543.60,734.80) scale(0.93,1)" x="0" y="0" font-size="16.9">60(C1,C2)</text>
<polyline points="488.60,739.00 618.00,739.00 641.40,634.80" fill="none" stroke-width="1.1" />
<path d="M641.40,634.80 L641.40,643.00 L637.89,642.21 Z" fill="#000" stroke="none"/>
</svg>
</body></html>
